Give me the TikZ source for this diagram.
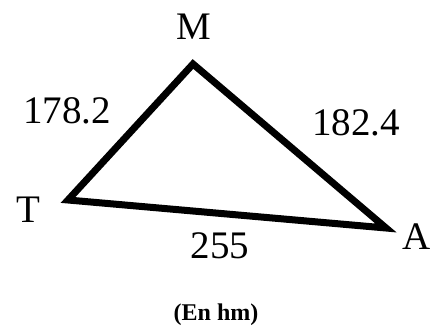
\documentclass[tikz,border=0pt]{standalone}
\usepackage{fontspec}
\setmainfont{Liberation Serif}
\usetikzlibrary{positioning}

\begin{document}
\begin{tikzpicture}[
  x=1pt, y=-1pt,
  vertex/.style={anchor=base, inner sep=0pt, font=\fontsize{39}{42}\selectfont},
  side/.style={anchor=base, inner sep=0pt, font=\fontsize{39}{42}\selectfont},
  edge/.style={line width=7pt, line join=miter}
]
\useasboundingbox (0,0) rectangle (435,329);

\coordinate (M) at (193,64);
\coordinate (T) at (68,200);
\coordinate (A) at (386,228);

\draw[edge] (T) -- (M) -- (A) -- cycle;

\node[vertex] (labelM) at (194,39) {M};
\node[vertex] (labelT) at (28,222) {T};
\node[vertex] (labelA) at (417,249) {A};

\node[side] (sideTM) at (67,123) {178.2};
\node[side] (sideMA) at (356,135) {182.4};
\node[side] (sideTA) at (220,258) {255};

\node[anchor=base, inner sep=0pt, font=\fontsize{24}{26}\selectfont\bfseries] (unit) at (216,320) {(En hm)};
\end{tikzpicture}
\end{document}
